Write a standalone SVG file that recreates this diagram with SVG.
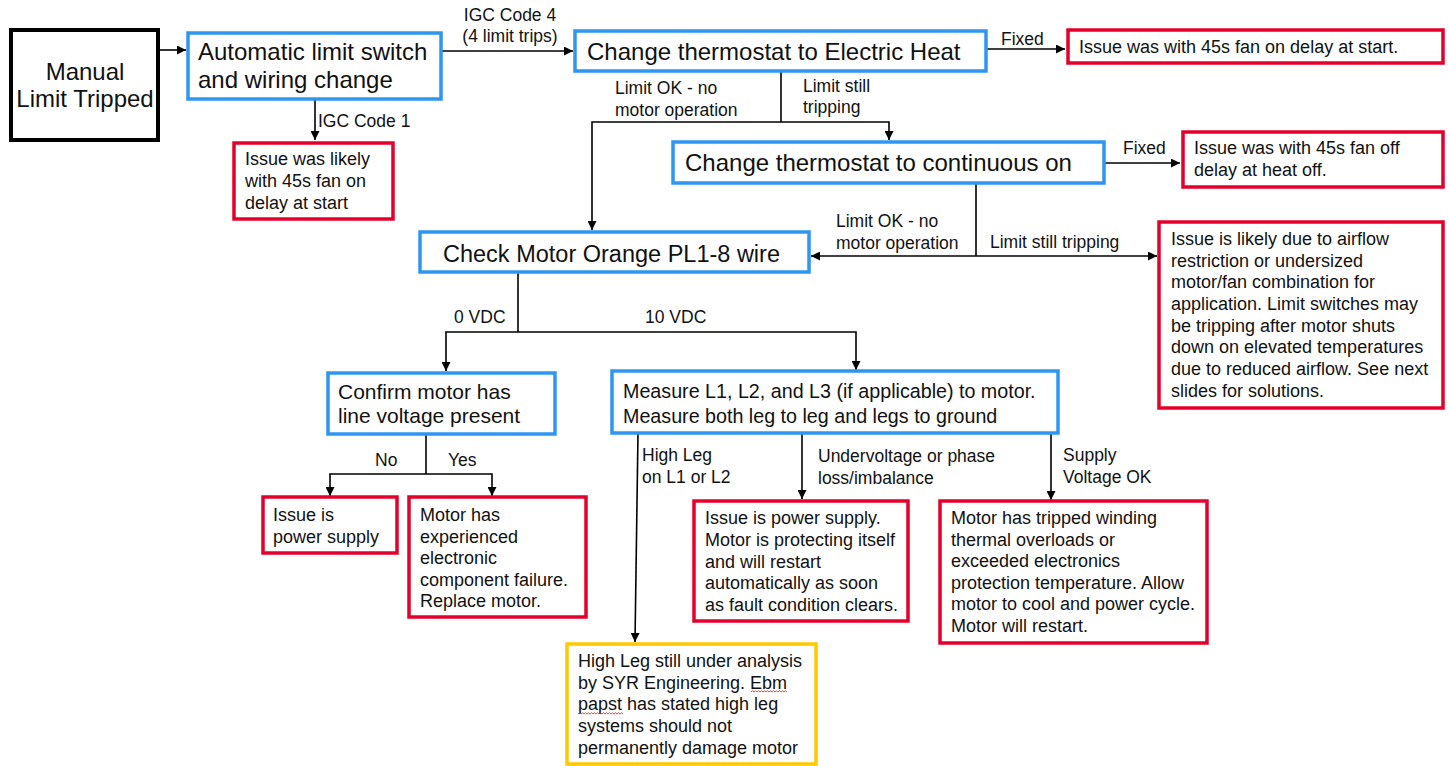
<svg xmlns="http://www.w3.org/2000/svg" width="1449" height="766" viewBox="0 0 1449 766">
<style>
text{font-family:"Liberation Sans",Arial,sans-serif;fill:#111;}
.big{font-size:24px;}
.mid{font-size:21px;}
.ms{font-size:19.7px;}
.sm{font-size:18px;}
.lbl{font-size:17.5px;}
.blk{fill:#fff;stroke:#000;stroke-width:4;}
.blue{fill:#fff;stroke:#2E96F0;stroke-width:3.5;}
.red{fill:#fff;stroke:#E5002B;stroke-width:3.5;}
.yel{fill:#fff;stroke:#FFC800;stroke-width:3.5;}
.c{fill:none;stroke:#000;stroke-width:1.6;}
.spell{fill:none;stroke:#E0303C;stroke-width:0.9;}
</style>
<defs>
<marker id="ah" viewBox="0 0 10 10" refX="10" refY="5" markerWidth="9" markerHeight="9" markerUnits="userSpaceOnUse" orient="auto"><path d="M0,0 L10,5 L0,10 z" fill="#000"/></marker>
</defs>
<rect width="1449" height="766" fill="#fff"/>

<g id="connectors">
<path class="c" d="M158,50 H186" marker-end="url(#ah)"/>
<path class="c" d="M441,51 H573" marker-end="url(#ah)"/>
<path class="c" d="M987,49 H1065" marker-end="url(#ah)"/>
<path class="c" d="M315,99 V140" marker-end="url(#ah)"/>
<path class="c" d="M781,71 V122"/>
<path class="c" d="M781,122 H592 V230" marker-end="url(#ah)"/>
<path class="c" d="M781,122 H889 V140" marker-end="url(#ah)"/>
<path class="c" d="M1104,163 H1180" marker-end="url(#ah)"/>
<path class="c" d="M976,183 V256"/>
<path class="c" d="M976,256 H811" marker-end="url(#ah)"/>
<path class="c" d="M976,256 H1157" marker-end="url(#ah)"/>
<path class="c" d="M518,272 V332"/>
<path class="c" d="M518,332 H446 V371" marker-end="url(#ah)"/>
<path class="c" d="M518,332 H856 V370" marker-end="url(#ah)"/>
<path class="c" d="M426,435 V474"/>
<path class="c" d="M426,474 H330 V496" marker-end="url(#ah)"/>
<path class="c" d="M426,474 H492 V496" marker-end="url(#ah)"/>
<path class="c" d="M638,433 L635,642" marker-end="url(#ah)"/>
<path class="c" d="M802,433 V499" marker-end="url(#ah)"/>
<path class="c" d="M1051,433 V500" marker-end="url(#ah)"/>
<text class="lbl" x="510" y="21" text-anchor="middle">IGC Code 4</text>
<text class="lbl" x="510" y="42" text-anchor="middle">(4 limit trips)</text>
<text class="lbl" x="1001" y="45">Fixed</text>
<text class="lbl" x="318" y="127">IGC Code 1</text>
<text class="lbl" x="615" y="94">Limit OK - no</text>
<text class="lbl" x="615" y="116">motor operation</text>
<text class="lbl" x="803" y="92">Limit still</text>
<text class="lbl" x="803" y="113">tripping</text>
<text class="lbl" x="1123" y="154">Fixed</text>
<text class="lbl" x="836" y="227">Limit OK - no</text>
<text class="lbl" x="836" y="249">motor operation</text>
<text class="lbl" x="990" y="248">Limit still tripping</text>
<text class="lbl" x="454" y="323">0 VDC</text>
<text class="lbl" x="645" y="323">10 VDC</text>
<text class="lbl" x="375" y="466">No</text>
<text class="lbl" x="448" y="466">Yes</text>
<text class="lbl" x="642" y="461">High Leg</text>
<text class="lbl" x="642" y="483">on L1 or L2</text>
<text class="lbl" x="818" y="462">Undervoltage or phase</text>
<text class="lbl" x="818" y="484">loss/imbalance</text>
<text class="lbl" x="1063" y="461">Supply</text>
<text class="lbl" x="1063" y="483">Voltage OK</text>
</g>

<g id="manual">
<rect class="blk" x="11" y="30" width="147" height="110"/>
<text class="big" x="85" y="80" text-anchor="middle">Manual</text>
<text class="big" x="85" y="107" text-anchor="middle">Limit Tripped</text>
</g>

<g id="automatic">
<rect class="blue" x="188" y="33" width="253" height="66"/>
<text class="big" x="198" y="60">Automatic limit switch</text>
<text class="big" x="198" y="88">and wiring change</text>
</g>

<g id="issue-likely">
<rect class="red" x="234" y="143" width="159" height="76"/>
<text class="sm" x="245" y="165">Issue was likely</text>
<text class="sm" x="245" y="187">with 45s fan on</text>
<text class="sm" x="245" y="209">delay at start</text>
</g>

<g id="electric-heat">
<rect class="blue" x="575" y="31" width="411" height="40"/>
<text class="big" x="587" y="60">Change thermostat to Electric Heat</text>
</g>

<g id="fan-on-delay">
<rect class="red" x="1068" y="30" width="375" height="33"/>
<text class="sm" x="1079" y="53">Issue was with 45s fan on delay at start.</text>
</g>

<g id="continuous-on">
<rect class="blue" x="673" y="142" width="431" height="41"/>
<text class="big" x="685" y="171">Change thermostat to continuous on</text>
</g>

<g id="fan-off-delay">
<rect class="red" x="1183" y="132" width="260" height="55"/>
<text class="sm" x="1194" y="154">Issue was with 45s fan off</text>
<text class="sm" x="1194" y="176">delay at heat off.</text>
</g>

<g id="check-motor">
<rect class="blue" x="420" y="232" width="389" height="40"/>
<text class="big" x="443" y="262" style="font-size:23.5px">Check Motor Orange PL1-8 wire</text>
</g>

<g id="airflow">
<rect class="red" x="1159" y="222" width="284" height="186"/>
<text class="sm" x="1171" y="245">Issue is likely due to airflow</text>
<text class="sm" x="1171" y="267">restriction or undersized</text>
<text class="sm" x="1171" y="288">motor/fan combination for</text>
<text class="sm" x="1171" y="310">application. Limit switches may</text>
<text class="sm" x="1171" y="332">be tripping after motor shuts</text>
<text class="sm" x="1171" y="353">down on elevated temperatures</text>
<text class="sm" x="1171" y="375">due to reduced airflow. See next</text>
<text class="sm" x="1171" y="397">slides for solutions.</text>
</g>

<g id="confirm">
<rect class="blue" x="328" y="373" width="227" height="61"/>
<text class="mid" x="338" y="399">Confirm motor has</text>
<text class="mid" x="338" y="423">line voltage present</text>
</g>

<g id="measure">
<rect class="blue" x="612" y="371" width="446" height="62"/>
<text class="ms" x="623" y="398">Measure L1, L2, and L3 (if applicable) to motor.</text>
<text class="ms" x="623" y="423">Measure both leg to leg and legs to ground</text>
</g>

<g id="power-supply">
<rect class="red" x="263" y="497" width="134" height="56"/>
<text class="sm" x="273" y="521">Issue is</text>
<text class="sm" x="273" y="543">power supply</text>
</g>

<g id="replace-motor">
<rect class="red" x="409" y="497" width="177" height="120"/>
<text class="sm" x="420" y="521">Motor has</text>
<text class="sm" x="420" y="543">experienced</text>
<text class="sm" x="420" y="564">electronic</text>
<text class="sm" x="420" y="586">component failure.</text>
<text class="sm" x="420" y="607">Replace motor.</text>
</g>

<g id="protecting">
<rect class="red" x="694" y="501" width="214" height="120"/>
<text class="sm" x="705" y="524">Issue is power supply.</text>
<text class="sm" x="705" y="546">Motor is protecting itself</text>
<text class="sm" x="705" y="568">and will restart</text>
<text class="sm" x="705" y="589">automatically as soon</text>
<text class="sm" x="705" y="611">as fault condition clears.</text>
</g>

<g id="tripped-winding">
<rect class="red" x="940" y="501" width="267" height="142"/>
<text class="sm" x="951" y="524">Motor has tripped winding</text>
<text class="sm" x="951" y="546">thermal overloads or</text>
<text class="sm" x="951" y="567">exceeded electronics</text>
<text class="sm" x="951" y="589">protection temperature. Allow</text>
<text class="sm" x="951" y="610">motor to cool and power cycle.</text>
<text class="sm" x="951" y="632">Motor will restart.</text>
</g>

<g id="high-leg">
<rect class="yel" x="567" y="644" width="249" height="120"/>
<text class="sm" x="578" y="667">High Leg still under analysis</text>
<text class="sm" x="578" y="689">by SYR Engineering. Ebm</text>
<text class="sm" x="578" y="710">papst has stated high leg</text>
<text class="sm" x="578" y="732">systems should not</text>
<text class="sm" x="578" y="754">permanently damage motor</text>
<path class="spell" d="M751,692 l1.5,-1.2 l1.5,1.2 l1.5,-1.2 l1.5,1.2 l1.5,-1.2 l1.5,1.2 l1.5,-1.2 l1.5,1.2 l1.5,-1.2 l1.5,1.2 l1.5,-1.2 l1.5,1.2 l1.5,-1.2 l1.5,1.2 l1.5,-1.2 l1.5,1.2 l1.5,-1.2 l1.5,1.2 l1.5,-1.2 l1.5,1.2 l1.5,-1.2 l1.5,1.2 l1.5,-1.2 l1.5,1.2"/>
<path class="spell" d="M578,714 l1.5,-1.2 l1.5,1.2 l1.5,-1.2 l1.5,1.2 l1.5,-1.2 l1.5,1.2 l1.5,-1.2 l1.5,1.2 l1.5,-1.2 l1.5,1.2 l1.5,-1.2 l1.5,1.2 l1.5,-1.2 l1.5,1.2 l1.5,-1.2 l1.5,1.2 l1.5,-1.2 l1.5,1.2 l1.5,-1.2 l1.5,1.2 l1.5,-1.2 l1.5,1.2 l1.5,-1.2 l1.5,1.2 l1.5,-1.2 l1.5,1.2 l1.5,-1.2 l1.5,1.2 l1.5,-1.2 l1.5,1.2"/>
</g>
</svg>
